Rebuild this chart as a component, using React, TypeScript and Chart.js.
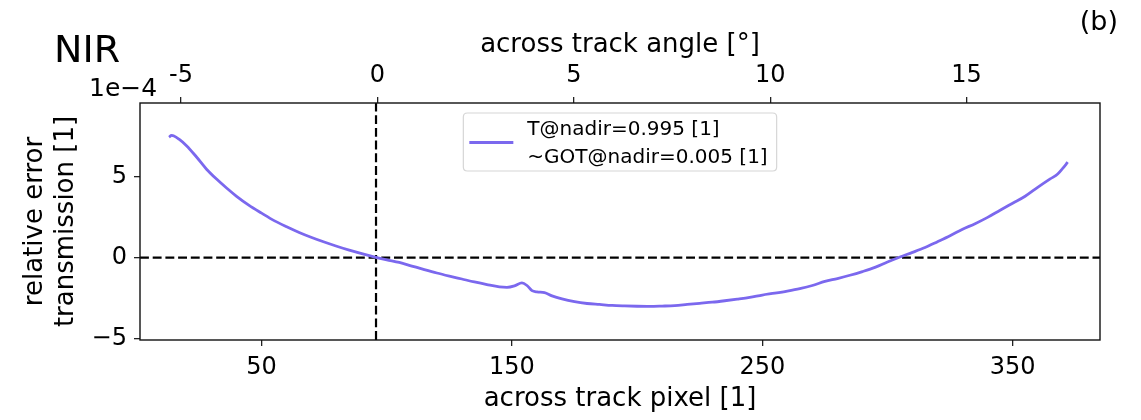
import React, { useEffect, useRef } from 'react';
import { Chart, registerables } from 'chart.js';

Chart.register(...registerables);

// Across-track pixel index of each sample
const pixelIndex = [
  13, 14, 15, 17, 20, 24, 28, 32, 36, 40,
  45, 50, 55, 60, 65, 70, 75, 80, 85, 90,
  96, 100, 105, 110, 115, 120, 125, 130, 135, 140,
  145, 148, 151, 154, 156, 158, 160, 163, 166, 170,
  175, 180, 185, 190, 195, 200, 205, 210, 215, 220,
  225, 230, 235, 240, 245, 250, 255, 260, 265, 270,
  275, 280, 285, 290, 295, 300, 305, 310, 315, 320,
  325, 330, 335, 340, 345, 350, 355, 360, 365, 368,
  370, 372,
];

// Relative transmission error, in units of 1e-4
const relErrorE4 = [
  7.42, 7.53, 7.50, 7.30, 6.90, 6.20, 5.45, 4.84, 4.29, 3.78,
  3.22, 2.74, 2.28, 1.90, 1.55, 1.24, 0.96, 0.70, 0.46, 0.24,
  0.00, -0.14, -0.30, -0.52, -0.74, -0.95, -1.14, -1.32, -1.50, -1.66,
  -1.80, -1.83, -1.74, -1.56, -1.72, -2.04, -2.12, -2.16, -2.36, -2.55,
  -2.72, -2.83, -2.89, -2.95, -2.98, -3.00, -3.01, -2.99, -2.96, -2.89,
  -2.82, -2.75, -2.66, -2.56, -2.45, -2.31, -2.19, -2.06, -1.91, -1.72,
  -1.47, -1.29, -1.09, -0.86, -0.60, -0.27, 0.04, 0.32, 0.62, 0.98,
  1.35, 1.75, 2.09, 2.48, 2.92, 3.35, 3.78, 4.33, 4.85, 5.15,
  5.50, 5.88,
];

const legendLines = ['T@nadir=0.995 [1]', '~GOT@nadir=0.005 [1]'];

const pixelTicks = [50, 150, 250, 350];
const angleTicks = [-5, 0, 5, 10, 15];
const errorTicks = [-5, 0, 5];

const pixelRange = [1.42, 384.9];
const angleRange = [-6.044, 18.396];
const errorRange = [-5.08, 9.53];
const nadirPixel = 95.7;

const FONT = 'DejaVu Sans';
const CURVE_COLOR = '#7B68EE';

const decorPlugin = {
  id: 'decor',
  afterDatasetsDraw(chart: any) {
    const { ctx, chartArea: a } = chart;
    ctx.save();
    ctx.strokeStyle = '#111';
    ctx.lineWidth = 1.4;
    ctx.strokeRect(a.left, a.top, a.right - a.left, a.bottom - a.top);
    ctx.restore();
  },
  afterDraw(chart: any) {
    const { ctx, chartArea: a } = chart;
    ctx.save();
    ctx.fillStyle = '#000';

    // panel name
    ctx.font = `38px "${FONT}"`;
    ctx.textAlign = 'left';
    ctx.textBaseline = 'middle';
    ctx.fillText('NIR', 54, 52);

    // panel letter
    ctx.font = `27px "${FONT}"`;
    ctx.textAlign = 'right';
    ctx.fillText('(b)', 1118, 23);

    // y-axis scale factor
    ctx.font = `25px "${FONT}"`;
    ctx.textAlign = 'left';
    ctx.fillText('1e\u22124', a.left - 51, a.top - 14);

    // legend box, upper centre
    const ds = chart.data.datasets[0];
    ctx.font = `20px "${FONT}"`;
    const textW = Math.max(...legendLines.map((t) => ctx.measureText(t).width));
    const boxW = 6 + 44 + 14 + textW + 9;
    const boxH = 58;
    const cx = (a.left + a.right) / 2;
    const bx = cx - boxW / 2;
    const by = a.top + 10;
    const r = 4;
    ctx.beginPath();
    ctx.moveTo(bx + r, by);
    ctx.lineTo(bx + boxW - r, by);
    ctx.quadraticCurveTo(bx + boxW, by, bx + boxW, by + r);
    ctx.lineTo(bx + boxW, by + boxH - r);
    ctx.quadraticCurveTo(bx + boxW, by + boxH, bx + boxW - r, by + boxH);
    ctx.lineTo(bx + r, by + boxH);
    ctx.quadraticCurveTo(bx, by + boxH, bx, by + boxH - r);
    ctx.lineTo(bx, by + r);
    ctx.quadraticCurveTo(bx, by, bx + r, by);
    ctx.closePath();
    ctx.fillStyle = 'rgba(255,255,255,0.85)';
    ctx.fill();
    ctx.strokeStyle = '#d6d6d6';
    ctx.lineWidth = 1.2;
    ctx.stroke();

    ctx.strokeStyle = ds.borderColor;
    ctx.lineWidth = ds.borderWidth;
    ctx.beginPath();
    ctx.moveTo(bx + 6, by + 29.5);
    ctx.lineTo(bx + 50, by + 29.5);
    ctx.stroke();

    ctx.fillStyle = '#000';
    ctx.textAlign = 'left';
    ctx.textBaseline = 'middle';
    legendLines.forEach((t, i) => {
      ctx.fillText(t, bx + 64, by + 17 + i * 27.5);
    });
    ctx.restore();
  },
};

const tickFont = { family: FONT, size: 24 };
const titleFont = { family: FONT, size: 26, lineHeight: 1.22 };
const tickGrid = {
  display: true,
  drawOnChartArea: false,
  drawTicks: true,
  tickLength: 6,
  color: '#222',
  lineWidth: 1.3,
};

export default function App() {
  const canvasRef = useRef<HTMLCanvasElement | null>(null);

  useEffect(() => {
    if (!canvasRef.current) return;
    const curve = pixelIndex.map((p, i) => ({ x: p, y: relErrorE4[i] }));

    const chart = new Chart(canvasRef.current, {
      type: 'line',
      data: {
        datasets: [
          {
            label: legendLines.join('\n'),
            data: curve,
            borderColor: CURVE_COLOR,
            borderWidth: 2.8,
            pointRadius: 0,
            cubicInterpolationMode: 'monotone',
            fill: false,
            xAxisID: 'x',
            yAxisID: 'y',
          },
          {
            label: 'zero',
            data: [
              { x: pixelRange[0], y: 0 },
              { x: pixelRange[1], y: 0 },
            ],
            borderColor: '#000',
            borderWidth: 2.2,
            borderDash: [8.9, 3.8],
            pointRadius: 0,
            fill: false,
            xAxisID: 'x',
            yAxisID: 'y',
          },
          {
            label: 'nadir',
            data: [
              { x: nadirPixel, y: errorRange[0] },
              { x: nadirPixel, y: errorRange[1] },
            ],
            borderColor: '#000',
            borderWidth: 2.2,
            borderDash: [8.9, 3.8],
            pointRadius: 0,
            fill: false,
            xAxisID: 'x',
            yAxisID: 'y',
          },
        ],
      },
      options: {
        animation: false,
        responsive: true,
        maintainAspectRatio: false,
        events: [],
        layout: { padding: { left: 0, right: 41, top: 0, bottom: 0 } },
        plugins: {
          legend: { display: false },
          tooltip: { enabled: false },
          title: { display: false },
        },
        scales: {
          x: {
            type: 'linear',
            position: 'bottom',
            min: pixelRange[0],
            max: pixelRange[1],
            afterBuildTicks: (s: any) => {
              s.ticks = pixelTicks.map((v) => ({ value: v }));
            },
            afterFit: (s: any) => {
              s.height = 80;
            },
            ticks: {
              font: tickFont,
              color: '#000',
              padding: 7,
              maxRotation: 0,
              autoSkip: false,
              callback: (v: any) => String(v),
            },
            grid: tickGrid,
            border: { display: false },
            title: {
              display: true,
              text: 'across track pixel [1]',
              font: titleFont,
              color: '#000',
              padding: { top: 0, bottom: 5 },
            },
          },
          xTop: {
            type: 'linear',
            position: 'top',
            min: angleRange[0],
            max: angleRange[1],
            afterBuildTicks: (s: any) => {
              s.ticks = angleTicks.map((v) => ({ value: v }));
            },
            afterFit: (s: any) => {
              s.height = 103;
            },
            ticks: {
              font: tickFont,
              color: '#000',
              padding: 7,
              maxRotation: 0,
              autoSkip: false,
              callback: (v: any) => String(v),
            },
            grid: tickGrid,
            border: { display: false },
            title: {
              display: true,
              text: 'across track angle [\u00b0]',
              font: titleFont,
              color: '#000',
              padding: { top: 29, bottom: 0 },
            },
          },
          y: {
            type: 'linear',
            position: 'left',
            min: errorRange[0],
            max: errorRange[1],
            afterBuildTicks: (s: any) => {
              s.ticks = errorTicks.map((v) => ({ value: v }));
            },
            afterFit: (s: any) => {
              s.width = 140;
            },
            ticks: {
              font: tickFont,
              color: '#000',
              padding: 7,
              autoSkip: false,
              callback: (v: any) => (v < 0 ? '\u2212' + Math.abs(v) : String(v)),
            },
            grid: tickGrid,
            border: { display: false },
            title: {
              display: true,
              text: ['relative error', 'transmission [1]'],
              font: titleFont,
              color: '#000',
              padding: { top: 19, bottom: 0 },
            },
          },
        },
      },
      plugins: [decorPlugin],
    } as any);

    return () => chart.destroy();
  }, []);

  return (
    <div
      style={{
        position: 'fixed',
        left: 0,
        top: 0,
        width: 1141,
        height: 420,
        background: '#fff',
      }}
    >
      <canvas ref={canvasRef} />
    </div>
  );
}
